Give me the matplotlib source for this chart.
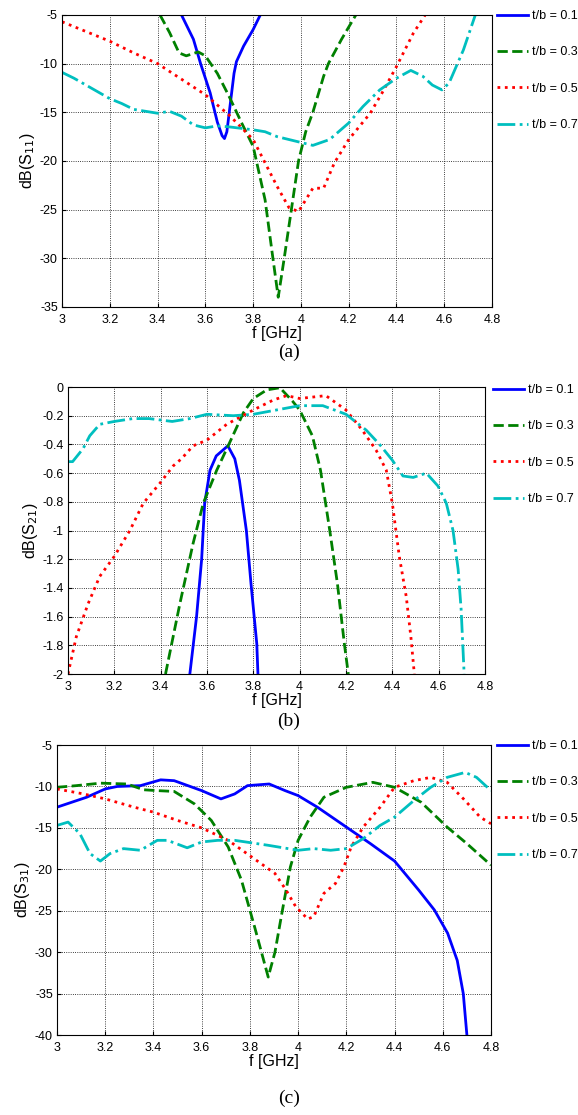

# S-parameters vs frequency for several t/b ratios, three stacked panels
import matplotlib
matplotlib.use("Agg")
import matplotlib.pyplot as plt

plt.rcParams['font.family'] = ['Liberation Sans', 'DejaVu Sans']

labels = ["t/b = 0.1", "t/b = 0.3", "t/b = 0.5", "t/b = 0.7"]
colors = ["#0000ff", "#008000", "#ff0000", "#00bfbf"]
styles = ["-", "--", ":", "-."]

# (a) dB(S11)
s11_f1 = [3.50, 3.55, 3.58, 3.62, 3.65, 3.67, 3.68, 3.69, 3.70, 3.72, 3.73, 3.76, 3.80, 3.83]
s11_v1 = [-5, -7.5, -10, -13, -16, -17.4, -17.7, -17.0, -15, -11, -9.8, -8.2, -6.5, -5]
s11_f3 = [3.41, 3.45, 3.49, 3.52, 3.57, 3.60, 3.65, 3.70, 3.75, 3.80, 3.85, 3.88, 3.905, 3.93,
          3.96, 3.99, 4.02, 4.05, 4.095, 4.115, 4.17, 4.23]
s11_v3 = [-5, -6.8, -8.9, -9.2, -8.8, -9.2, -11.0, -13.4, -16, -18.5, -24, -29.5, -34, -30,
          -25, -20, -17, -15, -11.3, -10, -7.5, -5]
s11_f5 = [3.0, 3.1, 3.2, 3.3, 3.4, 3.5, 3.6, 3.7, 3.8, 3.85, 3.9, 3.95, 3.99, 4.02, 4.05, 4.095,
          4.14, 4.2, 4.29, 4.34, 4.4, 4.47, 4.52]
s11_v5 = [-5.7, -6.7, -7.7, -8.9, -10, -11.6, -13.2, -15.3, -17.8, -20.2, -22.6, -24.8, -25.2,
          -24.0, -22.8, -22.8, -20.2, -17.8, -15.1, -13, -10.3, -6.9, -5]
s11_f7 = [3.0, 3.05, 3.1, 3.2, 3.25, 3.3, 3.4, 3.45, 3.5, 3.55, 3.6, 3.65, 3.7, 3.8, 3.85, 3.9,
          3.95, 4.0, 4.05, 4.12, 4.2, 4.26, 4.33, 4.4, 4.46, 4.51, 4.55, 4.59, 4.62, 4.65, 4.68, 4.73]
s11_v7 = [-10.9, -11.5, -12.2, -13.6, -14.1, -14.7, -15.1, -14.9, -15.4, -16.3, -16.6, -16.4,
          -16.5, -16.8, -17.0, -17.5, -17.8, -18.1, -18.4, -17.8, -16.1, -14.4, -12.7, -11.5,
          -10.7, -11.3, -12.2, -12.7, -12.0, -10.3, -8.6, -5]

# (b) dB(S21)
s21_f1 = [3.526, 3.555, 3.577, 3.59, 3.613, 3.64, 3.69, 3.72, 3.74, 3.77, 3.79, 3.815, 3.82]
s21_v1 = [-2, -1.6, -1.2, -0.81, -0.58, -0.48, -0.41, -0.5, -0.65, -1.0, -1.37, -1.79, -2]
s21_f3 = [3.421, 3.483, 3.54, 3.584, 3.642, 3.70, 3.757, 3.80, 3.858, 3.915, 3.97, 4.0, 4.055,
          4.09, 4.13, 4.163, 4.193, 4.21]
s21_v3 = [-2, -1.51, -1.09, -0.81, -0.58, -0.38, -0.18, -0.08, -0.02, -0.005, -0.1, -0.16,
          -0.34, -0.58, -1.0, -1.37, -1.79, -2]
s21_f5 = [3.0, 3.036, 3.087, 3.137, 3.2, 3.267, 3.325, 3.397, 3.454, 3.49, 3.54, 3.6, 3.685,
          3.8, 3.887, 3.944, 4.0, 4.113, 4.2, 4.27, 4.33, 4.374, 4.40, 4.43, 4.46, 4.48, 4.495]
s21_v5 = [-2, -1.74, -1.51, -1.32, -1.18, -1.0, -0.81, -0.67, -0.55, -0.5, -0.41, -0.37, -0.26,
          -0.16, -0.09, -0.06, -0.08, -0.06, -0.16, -0.3, -0.44, -0.58, -0.81, -1.18, -1.46,
          -1.74, -2]
s21_f7 = [3.0, 3.02, 3.065, 3.094, 3.137, 3.2, 3.28, 3.35, 3.45, 3.526, 3.6, 3.714, 3.8, 3.9,
          4.0, 4.055, 4.1, 4.2, 4.287, 4.345, 4.4, 4.446, 4.49, 4.547, 4.597, 4.633, 4.662,
          4.684, 4.697, 4.71]
s21_v7 = [-0.52, -0.52, -0.43, -0.34, -0.26, -0.24, -0.22, -0.22, -0.24, -0.22, -0.19, -0.2,
          -0.19, -0.16, -0.13, -0.13, -0.13, -0.19, -0.3, -0.4, -0.51, -0.62, -0.63, -0.6,
          -0.69, -0.81, -1.0, -1.27, -1.55, -2]

# (c) dB(S31)
s31_f1 = [3.0, 3.123, 3.2, 3.25, 3.346, 3.43, 3.486, 3.6, 3.68, 3.737, 3.79, 3.88, 3.946, 4.0,
          4.08, 4.2, 4.3, 4.4, 4.5, 4.565, 4.62, 4.66, 4.685, 4.70]
s31_v1 = [-12.5, -11.3, -10.3, -10, -9.9, -9.2, -9.3, -10.5, -11.5, -10.9, -9.9, -9.7, -10.5,
          -11.1, -12.5, -14.9, -16.9, -19, -22.5, -24.9, -27.7, -31, -35, -40]
s31_f3 = [3.0, 3.08, 3.18, 3.29, 3.36, 3.416, 3.486, 3.57, 3.64, 3.71, 3.765, 3.82, 3.876,
          3.904, 3.932, 3.968, 4.0, 4.05, 4.107, 4.2, 4.31, 4.4, 4.51, 4.618, 4.7, 4.8]
s31_v3 = [-10.1, -9.9, -9.6, -9.7, -10.4, -10.5, -10.6, -12.1, -14.1, -17.3, -21.3, -27, -33,
          -30, -25.4, -19.7, -16.5, -13.7, -11.3, -10.1, -9.5, -10.1, -11.9, -14.9, -16.9, -19.5]
s31_f5 = [3.0, 3.11, 3.2, 3.32, 3.4, 3.5, 3.6, 3.71, 3.807, 3.904, 3.95, 3.99, 4.04, 4.065,
          4.107, 4.155, 4.19, 4.22, 4.27, 4.34, 4.4, 4.48, 4.55, 4.618, 4.686, 4.755, 4.8]
s31_v5 = [-10.3, -10.9, -11.5, -12.5, -13.1, -14.1, -15, -16.5, -18.5, -20.5, -22.5, -24.5,
          -26, -25.7, -22.9, -21.7, -19.7, -17.3, -14.9, -12.5, -10.1, -9.3, -8.9, -9.5,
          -11.5, -13.7, -14.5]
s31_f7 = [3.0, 3.046, 3.095, 3.137, 3.18, 3.22, 3.276, 3.346, 3.416, 3.458, 3.54, 3.6, 3.667,
          3.737, 3.876, 4.0, 4.065, 4.135, 4.2, 4.27, 4.34, 4.4, 4.48, 4.55, 4.618, 4.693,
          4.74, 4.8]
s31_v7 = [-14.7, -14.3, -15.7, -18.1, -19, -18.1, -17.5, -17.7, -16.5, -16.5, -17.4, -16.7,
          -16.5, -16.5, -17.1, -17.7, -17.5, -17.7, -17.5, -16.3, -14.7, -13.7, -11.7, -10.1,
          -8.9, -8.3, -8.9, -10.5]

xticks = [3, 3.2, 3.4, 3.6, 3.8, 4, 4.2, 4.4, 4.6, 4.8]
xticklabels = ["3", "3.2", "3.4", "3.6", "3.8", "4", "4.2", "4.4", "4.6", "4.8"]

panels = [
    dict(rect=[0.1073, 0.7247, 0.744, 0.2619],
         data=[(s11_f1, s11_v1), (s11_f3, s11_v3), (s11_f5, s11_v5), (s11_f7, s11_v7)],
         ylim=(-35, -5), yticks=[-35, -30, -25, -20, -15, -10, -5],
         yticklabels=["-35", "-30", "-25", "-20", "-15", "-10", "-5"],
         ylabel="dB(S$_{11}$)", tag="(a)", tag_y=352, leg=(497, 10)),
    dict(rect=[0.1176, 0.3955, 0.7215, 0.2574],
         data=[(s21_f1, s21_v1), (s21_f3, s21_v3), (s21_f5, s21_v5), (s21_f7, s21_v7)],
         ylim=(-2, 0), yticks=[-2, -1.8, -1.6, -1.4, -1.2, -1, -0.8, -0.6, -0.4, -0.2, 0],
         yticklabels=["-2", "-1.8", "-1.6", "-1.4", "-1.2", "-1", "-0.8", "-0.6", "-0.4", "-0.2", "0"],
         ylabel="dB(S$_{21}$)", tag="(b)", tag_y=721, leg=(493, 384)),
    dict(rect=[0.0986, 0.0717, 0.7509, 0.2601],
         data=[(s31_f1, s31_v1), (s31_f3, s31_v3), (s31_f5, s31_v5), (s31_f7, s31_v7)],
         ylim=(-40, -5), yticks=[-40, -35, -30, -25, -20, -15, -10, -5],
         yticklabels=["-40", "-35", "-30", "-25", "-20", "-15", "-10", "-5"],
         ylabel="dB(S$_{31}$)", tag="(c)", tag_y=1098, leg=(497, 740)),
]

W, H = 578, 1115
fig = plt.figure(figsize=(W / 100, H / 100), dpi=100)

for p in panels:
    ax = fig.add_axes(p["rect"])
    for (f, v), c, ls, lab in zip(p["data"], colors, styles, labels):
        ax.plot(f, v, color=c, linestyle=ls, linewidth=2, label=lab)
    ax.set_xlim(3, 4.8)
    ax.set_ylim(*p["ylim"])
    ax.set_xticks(xticks)
    ax.set_xticklabels(xticklabels)
    ax.set_yticks(p["yticks"])
    ax.set_yticklabels(p["yticklabels"])
    ax.tick_params(direction="in", length=3, labelsize=9, pad=3)
    ax.tick_params(axis="x", pad=5)
    ax.grid(True, color="black", linestyle=":", linewidth=0.6)
    for s in ax.spines.values():
        s.set_linewidth(0.8)
    ax.set_xlabel("f [GHz]", fontsize=11.5, labelpad=0)
    ax.set_ylabel(p["ylabel"], fontsize=11.5, labelpad=2)
    lx, ly = p["leg"]
    ax.legend(loc="upper left", bbox_to_anchor=(lx / W, 1 - ly / H),
              bbox_transform=fig.transFigure, frameon=False, fontsize=9,
              handlelength=2.5, handletextpad=0.3, labelspacing=1.95,
              borderpad=0, borderaxespad=0)
    fig.text(0.5, 1 - p["tag_y"] / H, p["tag"], ha="center", va="center",
             family="Liberation Serif", fontsize=14)

fig.savefig("out.png", dpi=100)
